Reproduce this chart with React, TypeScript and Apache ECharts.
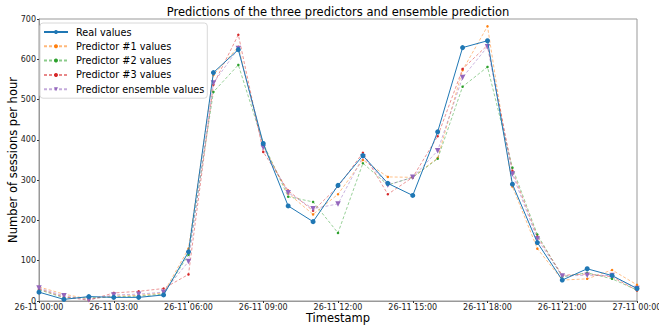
import React, { useEffect, useRef } from "react";
import * as echarts from "echarts";

const timestamps: string[] = [
  "26-11 00:00", "26-11 01:00", "26-11 02:00", "26-11 03:00", "26-11 04:00", "26-11 05:00",
  "26-11 06:00", "26-11 07:00", "26-11 08:00", "26-11 09:00", "26-11 10:00", "26-11 11:00",
  "26-11 12:00", "26-11 13:00", "26-11 14:00", "26-11 15:00", "26-11 16:00", "26-11 17:00",
  "26-11 18:00", "26-11 19:00", "26-11 20:00", "26-11 21:00", "26-11 22:00", "26-11 23:00",
  "27-11 00:00",
];

const realValues = [22, 4, 11, 9, 9, 15, 122, 567, 624, 391, 236, 197, 287, 361, 292, 262, 420, 629, 646, 290, 145, 52, 80, 63, 31];
const predictor1 = [35, 17, 5, 12, 14, 20, 130, 561, 631, 385, 267, 215, 265, 350, 308, 307, 355, 573, 682, 284, 130, 52, 55, 77, 40];
const predictor2 = [28, 8, 8, 10, 12, 17, 115, 519, 586, 391, 259, 246, 169, 342, 288, 307, 353, 532, 581, 331, 165, 60, 70, 55, 27];
const predictor3 = [30, 10, 2, 20, 24, 31, 66, 537, 661, 370, 274, 224, 284, 368, 265, 307, 409, 576, 635, 323, 160, 64, 67, 60, 26];
const ensemble = [32, 13, 3, 15, 17, 22, 98, 541, 627, 381, 269, 229, 241, 358, 288, 307, 373, 555, 631, 315, 154, 62, 64, 63, 31];

const yTicks = [0, 100, 200, 300, 400, 500, 600, 700];

const FONT = "DejaVu Sans";

export default function App() {
  const ref = useRef<HTMLDivElement>(null);
  useEffect(() => {
    if (!ref.current) return;
    const chart = echarts.init(ref.current, undefined, { renderer: "svg" });
    const dashed = (name: string, data: number[], color: string, symbol: string, size: number, rotate = 0) => ({
      name,
      type: "line",
      data,
      symbol,
      symbolSize: size,
      symbolRotate: rotate,
      showSymbol: true,
      itemStyle: { color },
      lineStyle: { color, width: 0.9, type: [3, 2], opacity: 0.55 },
      emphasis: { disabled: true },
    });
    chart.setOption({
      animation: false,
      textStyle: { fontFamily: FONT },
      title: {
        text: "Predictions of the three predictors and ensemble prediction",
        left: 333,
        textAlign: "center",
        top: 1,
        textStyle: { fontFamily: FONT, fontSize: 11.5, fontWeight: "normal", color: "#000" },
      },
      legend: {
        orient: "vertical",
        left: 40,
        top: 23,
        itemWidth: 24,
        itemHeight: 5,
        itemGap: 2.3,
        padding: [3, 3, 3, 3],
        borderColor: "#d8d8d8",
        borderWidth: 1,
        borderRadius: 3,
        backgroundColor: "rgba(255,255,255,0.85)",
        textStyle: { fontFamily: FONT, fontSize: 9.7, lineHeight: 12, color: "#000", padding: [0, 0, 0, 3] },
        data: ["Real values", "Predictor #1 values", "Predictor #2 values", "Predictor #3 values", "Predictor ensemble values"],
      },
      grid: { left: 39, right: 22, top: 19, bottom: 28, containLabel: false, outerBoundsMode: "none" },
      xAxis: {
        type: "category",
        data: timestamps,
        boundaryGap: false,
        name: "Timestamp",
        nameLocation: "middle",
        nameGap: 11,
        nameMoveOverlap: false,
        nameTextStyle: { fontFamily: FONT, fontSize: 11.5, color: "#000" },
        axisLine: { lineStyle: { color: "#999", width: 1 } },
        axisTick: { interval: 2, length: 2, lineStyle: { color: "#333" } },
        axisLabel: { interval: 2, fontFamily: FONT, fontSize: 8, color: "#222", margin: 2 },
        splitLine: { show: false },
      },
      yAxis: {
        type: "value",
        min: 0,
        max: 700,
        interval: 100,
        name: "Number of sessions per hour",
        nameLocation: "middle",
        nameGap: 20,
        nameMoveOverlap: false,
        nameTextStyle: { fontFamily: FONT, fontSize: 11.5, color: "#000" },
        axisLine: { show: true, lineStyle: { color: "#999", width: 1 } },
        axisTick: { show: true, length: 2, lineStyle: { color: "#333" } },
        axisLabel: {
          fontFamily: FONT,
          fontSize: 8,
          color: "#222",
          margin: 3,
          formatter: (v: number) => (yTicks.includes(v) ? String(v) : ""),
        },
        splitLine: { show: false },
      },
      graphic: [
        {
          type: "rect",
          shape: { x: 39, y: 19, width: 598, height: 282 },
          style: { fill: "none", stroke: "#999", lineWidth: 1 },
          silent: true,
          z: 0,
        },
      ],
      series: [
        {
          name: "Real values",
          type: "line",
          data: realValues,
          symbol: "circle",
          symbolSize: 5,
          itemStyle: { color: "#1f77b4" },
          lineStyle: { color: "#1f77b4", width: 1 },
          emphasis: { disabled: true },
          z: 5,
        },
        dashed("Predictor #1 values", predictor1, "#ff7f0e", "circle", 2.5),
        dashed("Predictor #2 values", predictor2, "#2ca02c", "circle", 2.5),
        dashed("Predictor #3 values", predictor3, "#d62728", "circle", 2.5),
        dashed("Predictor ensemble values", ensemble, "#9467bd", "triangle", 5.5, 180),
      ],
    });
    return () => chart.dispose();
  }, []);
  return (
    <div
      ref={ref}
      style={{ position: "fixed", left: 0, top: 0, width: 659, height: 329, background: "#fff" }}
    />
  );
}
